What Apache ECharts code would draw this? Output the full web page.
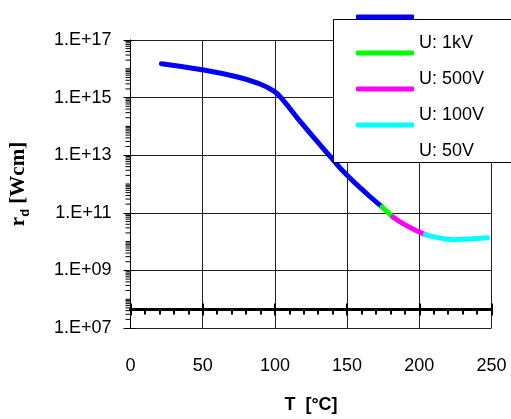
<!DOCTYPE html>
<html lang="en">
<head>
    <meta charset="UTF-8">
    <title>rd vs T</title>
    <style>
        html, body { margin: 0; padding: 0; background: #fff; }
        .box { width: 511px; height: 419px; }
    </style>
</head>
<body>
    <div class="box"></div>
    <script src="https://cdn.jsdelivr.net/npm/echarts@6/dist/echarts.min.js"></script>
    <script>
        // data (T in °C, rd in Wcm)
        var names = ['U: 1kV', 'U: 500V', 'U: 100V', 'U: 50V'];
        var colors = ['#0000ff', '#00ff00', '#ff00ff', '#00ffff'];

        var t1kV = [21.4, 49.4, 71.9, 88, 99, 105.2, 117.9, 131.6, 138.5, 150, 163.8, 174.2];
        var r1kV = [1.51e16, 9.3e15, 5.5e15, 3.2e15, 1.7e15, 8.7e14, 1.4e14, 2.2e13, 8.7e12, 2.0e12, 4.5e11, 1.6e11];
        var t500V = [174.2, 178, 181.7];
        var r500V = [1.6e11, 1.05e11, 7.1e10];
        var t100V = [181.7, 191.4, 204];
        var r100V = [7.1e10, 3.5e10, 1.74e10];
        var t50V = [204, 214.4, 223.6, 237.3, 247];
        var r50V = [1.74e10, 1.32e10, 1.17e10, 1.26e10, 1.35e10];

        var xTicks = [0, 50, 100, 150, 200, 250];
        var yExpMin = 7;   // 1.E+07
        var yExpMax = 17;  // 1.E+17

        var myChart = echarts.init(document.getElementsByClassName('box')[0]);

        // values are plotted as exponent above 1.E+07
        function toPoints(ts, rs) {
            return ts.map(function (t, i) {
                return [t, Math.log10(rs[i]) - yExpMin];
            });
        }

        // minor log ticks on the y axis (2..9 of each decade, plus odd decades)
        var minorTicks = [];
        for (var n = yExpMin; n < yExpMax; n++) {
            for (var k = 1; k <= 9; k++) {
                if (k === 1 && (n - yExpMin) % 2 === 0) continue;
                minorTicks.push([0, n - yExpMin + Math.log10(k)]);
            }
        }

        var fam = 'Liberation Sans';
        var curves = [[t1kV, r1kV], [t500V, r500V], [t100V, r100V], [t50V, r50V]];
        var series = [];
        curves.forEach(function (c, i) {
            series.push({
                name: names[i],
                type: 'line',
                data: toPoints(c[0], c[1]),
                smooth: true,
                symbol: 'none',
                color: colors[i],
                lineStyle: { width: 5, color: colors[i], cap: 'round' },
                z: 2
            });
        });
        series.push({
            type: 'custom',
            silent: true,
            clip: false,
            data: minorTicks,
            renderItem: function (params, api) {
                var p = api.coord([0, api.value(1)]);
                return {
                    type: 'line',
                    shape: { x1: p[0] - 5, y1: p[1], x2: p[0], y2: p[1] },
                    style: { stroke: '#000', lineWidth: 1 }
                };
            },
            z: 1
        });

        var xBase = {
            type: 'value',
            min: xTicks[0],
            max: xTicks[xTicks.length - 1],
            interval: 50
        };

        var option = {
            animation: false,
            grid: { left: 129, right: 19.5, top: 40, bottom: 87.5 },
            xAxis: [
                Object.assign({}, xBase, {
                    position: 'bottom',
                    name: 'T  [°C]',
                    nameLocation: 'middle',
                    nameGap: 68,
                    nameTextStyle: { fontFamily: fam, fontSize: 18, fontWeight: 'bold', color: '#000' },
                    axisLine: { show: false },
                    axisTick: { show: false },
                    axisLabel: { margin: 29, fontFamily: fam, fontSize: 18, color: '#000' },
                    splitLine: { show: true, lineStyle: { color: '#222', width: 1 } }
                }),
                Object.assign({}, xBase, {
                    position: 'bottom',
                    offset: -18.5,
                    axisLine: { show: true, lineStyle: { color: '#000', width: 3 } },
                    axisTick: { show: true, length: 6, lineStyle: { color: '#000', width: 2 } },
                    minorTick: { show: true, splitNumber: 5, length: 5, lineStyle: { color: '#000', width: 2 } },
                    axisLabel: { show: false },
                    splitLine: { show: false }
                }),
                Object.assign({}, xBase, {
                    position: 'bottom',
                    offset: -18.5,
                    axisLine: { show: false },
                    axisTick: { show: true, inside: true, length: 6, lineStyle: { color: '#000', width: 2 } },
                    axisLabel: { show: false },
                    splitLine: { show: false }
                })
            ],
            yAxis: [
                {
                    type: 'value',
                    min: 0,
                    max: yExpMax - yExpMin,
                    interval: 2,
                    name: '{a|r}{b|d}{a| [Wcm]}',
                    nameLocation: 'middle',
                    nameGap: 99,
                    nameTextStyle: {
                        rich: {
                            a: { fontFamily: 'Liberation Serif', fontSize: 21, fontWeight: 'bold', color: '#000', lineHeight: 26 },
                            b: { fontFamily: 'Liberation Sans', fontSize: 13, fontWeight: 'bold', color: '#000', lineHeight: 26, verticalAlign: 'bottom' }
                        }
                    },
                    axisLine: { show: true, lineStyle: { color: '#000', width: 1 } },
                    axisTick: { show: true, length: 7, lineStyle: { color: '#000' } },
                    axisLabel: {
                        margin: 19,
                        fontFamily: fam,
                        fontSize: 18,
                        color: '#000',
                        formatter: function (v) {
                            var e = v + yExpMin;
                            return '1.E+' + (e < 10 ? '0' + e : e);
                        }
                    },
                    splitLine: { show: true, lineStyle: { color: '#222', width: 1 } }
                },
                {
                    type: 'value',
                    position: 'left',
                    min: 0,
                    max: yExpMax - yExpMin,
                    interval: 2,
                    axisLine: { show: false },
                    axisTick: { show: true, inside: true, length: 4, lineStyle: { color: '#000' } },
                    axisLabel: { show: false },
                    splitLine: { show: false }
                }
            ],
            legend: {
                orient: 'vertical',
                left: 356,
                top: -2,
                padding: 0,
                itemGap: -18,
                itemWidth: 58,
                itemHeight: 5,
                icon: 'roundRect',
                data: names,
                // label sits one half-row below its line, as in the original
                formatter: function (name) {
                    return '{g| }\n{t|' + name + '}';
                },
                textStyle: {
                    fontFamily: fam,
                    fontSize: 18,
                    color: '#000',
                    rich: {
                        g: { fontFamily: fam, fontSize: 18, lineHeight: 52 },
                        t: { fontFamily: fam, fontSize: 18, color: '#000', lineHeight: 20 }
                    }
                },
                z: 5
            },
            graphic: [{
                type: 'rect',
                z: 3,
                silent: true,
                shape: { x: 333.5, y: 19.5, width: 200, height: 143 },
                style: { fill: '#fff', stroke: '#000', lineWidth: 1 }
            }],
            series: series
        };
        myChart.setOption(option);
    </script>
</body>
</html>
